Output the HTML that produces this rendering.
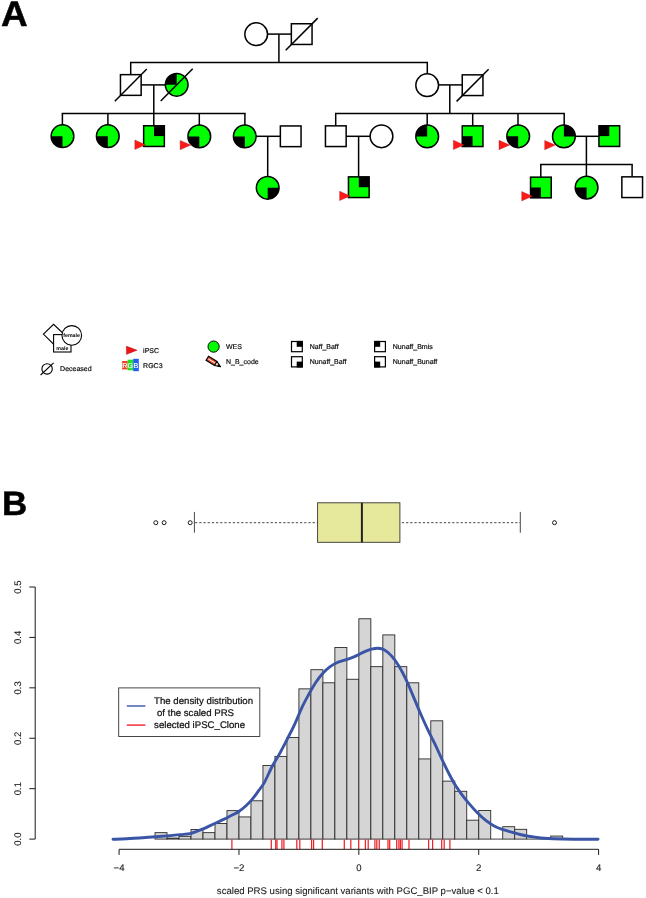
<!DOCTYPE html>
<html><head><meta charset="utf-8"><title>Figure</title>
<style>
html,body{margin:0;padding:0;background:#fff;}
svg{display:block;will-change:transform;text-rendering:geometricPrecision;font-family:"Liberation Sans",sans-serif;}
</style></head>
<body>
<svg width="646" height="898" viewBox="0 0 646 898">
<rect width="646" height="898" fill="#fff"/>
<g id="pedigree">
<line x1="267" y1="34.1" x2="292" y2="34.1" stroke="#000" stroke-width="1.5"/>
<line x1="278.9" y1="34.1" x2="278.9" y2="62.5" stroke="#000" stroke-width="1.5"/>
<line x1="130.0" y1="62.5" x2="428.0" y2="62.5" stroke="#000" stroke-width="1.5"/>
<line x1="130.7" y1="62.5" x2="130.7" y2="75" stroke="#000" stroke-width="1.5"/>
<line x1="427.3" y1="62.5" x2="427.3" y2="74" stroke="#000" stroke-width="1.5"/>
<line x1="141" y1="84.9" x2="165" y2="84.9" stroke="#000" stroke-width="1.5"/>
<line x1="153.8" y1="84.9" x2="153.8" y2="126" stroke="#000" stroke-width="1.5"/>
<line x1="61.7" y1="113.5" x2="245.6" y2="113.5" stroke="#000" stroke-width="1.5"/>
<line x1="62.4" y1="113.5" x2="62.4" y2="125.5" stroke="#000" stroke-width="1.5"/>
<line x1="107.9" y1="113.5" x2="107.9" y2="125.5" stroke="#000" stroke-width="1.5"/>
<line x1="199.3" y1="113.5" x2="199.3" y2="125.5" stroke="#000" stroke-width="1.5"/>
<line x1="244.9" y1="113.5" x2="244.9" y2="125.5" stroke="#000" stroke-width="1.5"/>
<line x1="438" y1="84.9" x2="463" y2="84.9" stroke="#000" stroke-width="1.5"/>
<line x1="449.8" y1="84.9" x2="449.8" y2="113.4" stroke="#000" stroke-width="1.5"/>
<line x1="335.0" y1="113.4" x2="564.9" y2="113.4" stroke="#000" stroke-width="1.5"/>
<line x1="335.7" y1="113.4" x2="335.7" y2="126" stroke="#000" stroke-width="1.5"/>
<line x1="427.2" y1="113.4" x2="427.2" y2="126" stroke="#000" stroke-width="1.5"/>
<line x1="472.7" y1="113.4" x2="472.7" y2="126" stroke="#000" stroke-width="1.5"/>
<line x1="518.0" y1="113.4" x2="518.0" y2="126" stroke="#000" stroke-width="1.5"/>
<line x1="564.2" y1="113.4" x2="564.2" y2="126" stroke="#000" stroke-width="1.5"/>
<line x1="256" y1="136.3" x2="280.5" y2="136.3" stroke="#000" stroke-width="1.5"/>
<line x1="267.7" y1="136.3" x2="267.7" y2="177" stroke="#000" stroke-width="1.5"/>
<line x1="346" y1="136.3" x2="370.5" y2="136.3" stroke="#000" stroke-width="1.5"/>
<line x1="358.6" y1="136.3" x2="358.6" y2="177.5" stroke="#000" stroke-width="1.5"/>
<line x1="575" y1="136.3" x2="599.5" y2="136.3" stroke="#000" stroke-width="1.5"/>
<line x1="586.4" y1="136.3" x2="586.4" y2="177" stroke="#000" stroke-width="1.5"/>
<line x1="540.1" y1="164.5" x2="632.8" y2="164.5" stroke="#000" stroke-width="1.5"/>
<line x1="540.8" y1="164.5" x2="540.8" y2="177.5" stroke="#000" stroke-width="1.5"/>
<line x1="632.1" y1="164.5" x2="632.1" y2="177.5" stroke="#000" stroke-width="1.5"/>
<circle cx="256.2" cy="34.2" r="11.35" fill="#fff" stroke="none"/>
<circle cx="256.2" cy="34.2" r="11.35" fill="none" stroke="#000" stroke-width="1.5"/>
<rect x="291.34999999999997" y="23.75" width="20.7" height="20.7" fill="#fff" stroke="none"/>
<rect x="291.34999999999997" y="23.75" width="20.7" height="20.7" fill="none" stroke="#000" stroke-width="1.5"/>
<line x1="285.7" y1="50.3" x2="317.7" y2="18.1" stroke="#000" stroke-width="1.5"/>
<rect x="120.45000000000002" y="74.65" width="20.7" height="20.7" fill="#fff" stroke="none"/>
<rect x="120.45000000000002" y="74.65" width="20.7" height="20.7" fill="none" stroke="#000" stroke-width="1.5"/>
<line x1="114.80000000000001" y1="101.2" x2="146.8" y2="69.0" stroke="#000" stroke-width="1.5"/>
<circle cx="176.7" cy="84.8" r="11.35" fill="#00FF00" stroke="none"/>
<path d="M176.7,84.8L165.35,84.8A11.35,11.35 0 0 1 176.7,73.45Z" fill="#000"/>
<circle cx="176.7" cy="84.8" r="11.35" fill="none" stroke="#000" stroke-width="1.5"/>
<line x1="160.7" y1="101.0" x2="192.7" y2="68.8" stroke="#000" stroke-width="1.5"/>
<circle cx="427.2" cy="85.2" r="11.35" fill="#fff" stroke="none"/>
<circle cx="427.2" cy="85.2" r="11.35" fill="none" stroke="#000" stroke-width="1.5"/>
<rect x="462.25" y="74.85000000000001" width="20.7" height="20.7" fill="#fff" stroke="none"/>
<rect x="462.25" y="74.85000000000001" width="20.7" height="20.7" fill="none" stroke="#000" stroke-width="1.5"/>
<line x1="456.6" y1="101.4" x2="488.6" y2="69.2" stroke="#000" stroke-width="1.5"/>
<circle cx="62.5" cy="136.2" r="11.35" fill="#00FF00" stroke="none"/>
<path d="M62.5,136.2L51.15,136.2A11.35,11.35 0 0 0 62.5,147.54999999999998Z" fill="#000"/>
<circle cx="62.5" cy="136.2" r="11.35" fill="none" stroke="#000" stroke-width="1.5"/>
<circle cx="107.8" cy="136.2" r="11.35" fill="#00FF00" stroke="none"/>
<path d="M107.8,136.2L96.45,136.2A11.35,11.35 0 0 0 107.8,147.54999999999998Z" fill="#000"/>
<circle cx="107.8" cy="136.2" r="11.35" fill="none" stroke="#000" stroke-width="1.5"/>
<rect x="143.65" y="125.75" width="20.7" height="20.7" fill="#00FF00" stroke="none"/>
<path d="M154.0,136.1L164.35,136.1L164.35,125.75L154.0,125.75Z" fill="#000"/>
<rect x="143.65" y="125.75" width="20.7" height="20.7" fill="none" stroke="#000" stroke-width="1.5"/>
<path d="M134.8,140.1L134.8,149.5L145.5,144.79999999999998Z" fill="#FF1A1A" stroke="#9a1414" stroke-width="0.35"/>
<circle cx="199.3" cy="136.4" r="11.35" fill="#00FF00" stroke="none"/>
<path d="M199.3,136.4L187.95000000000002,136.4A11.35,11.35 0 0 0 199.3,147.75Z" fill="#000"/>
<circle cx="199.3" cy="136.4" r="11.35" fill="none" stroke="#000" stroke-width="1.5"/>
<path d="M180.10000000000002,140.4L180.10000000000002,149.8L190.8,145.1Z" fill="#FF1A1A" stroke="#9a1414" stroke-width="0.35"/>
<circle cx="244.8" cy="136.4" r="11.35" fill="#00FF00" stroke="none"/>
<path d="M244.8,136.4L233.45000000000002,136.4A11.35,11.35 0 0 0 244.8,147.75Z" fill="#000"/>
<circle cx="244.8" cy="136.4" r="11.35" fill="none" stroke="#000" stroke-width="1.5"/>
<rect x="280.34999999999997" y="125.95000000000002" width="20.7" height="20.7" fill="#fff" stroke="none"/>
<rect x="280.34999999999997" y="125.95000000000002" width="20.7" height="20.7" fill="none" stroke="#000" stroke-width="1.5"/>
<rect x="325.45" y="125.85" width="20.7" height="20.7" fill="#fff" stroke="none"/>
<rect x="325.45" y="125.85" width="20.7" height="20.7" fill="none" stroke="#000" stroke-width="1.5"/>
<circle cx="381.5" cy="136.3" r="11.35" fill="#fff" stroke="none"/>
<circle cx="381.5" cy="136.3" r="11.35" fill="none" stroke="#000" stroke-width="1.5"/>
<circle cx="427.2" cy="136.4" r="11.35" fill="#00FF00" stroke="none"/>
<path d="M427.2,136.4L415.84999999999997,136.4A11.35,11.35 0 0 1 427.2,125.05000000000001Z" fill="#000"/>
<circle cx="427.2" cy="136.4" r="11.35" fill="none" stroke="#000" stroke-width="1.5"/>
<rect x="462.25" y="125.85" width="20.7" height="20.7" fill="#00FF00" stroke="none"/>
<path d="M472.6,136.2L462.25,136.2L462.25,146.54999999999998L472.6,146.54999999999998Z" fill="#000"/>
<rect x="462.25" y="125.85" width="20.7" height="20.7" fill="none" stroke="#000" stroke-width="1.5"/>
<path d="M453.40000000000003,140.2L453.40000000000003,149.6L464.1,144.89999999999998Z" fill="#FF1A1A" stroke="#9a1414" stroke-width="0.35"/>
<circle cx="518.2" cy="136.3" r="11.35" fill="#00FF00" stroke="none"/>
<path d="M518.2,136.3L506.85,136.3A11.35,11.35 0 0 0 518.2,147.65Z" fill="#000"/>
<circle cx="518.2" cy="136.3" r="11.35" fill="none" stroke="#000" stroke-width="1.5"/>
<path d="M499.00000000000006,140.3L499.00000000000006,149.70000000000002L509.70000000000005,145.0Z" fill="#FF1A1A" stroke="#9a1414" stroke-width="0.35"/>
<circle cx="563.9" cy="136.4" r="11.35" fill="#00FF00" stroke="none"/>
<path d="M563.9,136.4L575.25,136.4A11.35,11.35 0 0 0 563.9,125.05000000000001Z" fill="#000"/>
<circle cx="563.9" cy="136.4" r="11.35" fill="none" stroke="#000" stroke-width="1.5"/>
<path d="M544.6999999999999,140.4L544.6999999999999,149.8L555.4,145.1Z" fill="#FF1A1A" stroke="#9a1414" stroke-width="0.35"/>
<rect x="598.9499999999999" y="125.75" width="20.7" height="20.7" fill="#00FF00" stroke="none"/>
<path d="M609.3,136.1L598.9499999999999,136.1L598.9499999999999,125.75L609.3,125.75Z" fill="#000"/>
<rect x="598.9499999999999" y="125.75" width="20.7" height="20.7" fill="none" stroke="#000" stroke-width="1.5"/>
<circle cx="267.7" cy="187.8" r="11.35" fill="#00FF00" stroke="none"/>
<path d="M267.7,187.8L279.05,187.8A11.35,11.35 0 0 1 267.7,199.15Z" fill="#000"/>
<circle cx="267.7" cy="187.8" r="11.35" fill="none" stroke="#000" stroke-width="1.5"/>
<rect x="348.45" y="176.85" width="20.7" height="20.7" fill="#00FF00" stroke="none"/>
<path d="M358.8,187.2L369.15000000000003,187.2L369.15000000000003,176.85L358.8,176.85Z" fill="#000"/>
<rect x="348.45" y="176.85" width="20.7" height="20.7" fill="none" stroke="#000" stroke-width="1.5"/>
<path d="M339.6,191.2L339.6,200.6L350.3,195.89999999999998Z" fill="#FF1A1A" stroke="#9a1414" stroke-width="0.35"/>
<rect x="530.55" y="177.15" width="20.7" height="20.7" fill="#00FF00" stroke="none"/>
<path d="M540.9,187.5L530.55,187.5L530.55,197.85L540.9,197.85Z" fill="#000"/>
<rect x="530.55" y="177.15" width="20.7" height="20.7" fill="none" stroke="#000" stroke-width="1.5"/>
<path d="M521.6999999999999,191.5L521.6999999999999,200.9L532.4,196.2Z" fill="#FF1A1A" stroke="#9a1414" stroke-width="0.35"/>
<circle cx="586.6" cy="187.6" r="11.35" fill="#00FF00" stroke="none"/>
<path d="M586.6,187.6L575.25,187.6A11.35,11.35 0 0 0 586.6,198.95Z" fill="#000"/>
<circle cx="586.6" cy="187.6" r="11.35" fill="none" stroke="#000" stroke-width="1.5"/>
<rect x="621.85" y="176.85" width="20.7" height="20.7" fill="#fff" stroke="none"/>
<rect x="621.85" y="176.85" width="20.7" height="20.7" fill="none" stroke="#000" stroke-width="1.5"/>
</g>
<g id="legend" font-size="7px" fill="#0a0a0a" stroke-width="0.18">
<path d="M43.4,334.1L53.6,324.3L63.8,334.1L53.6,344.2Z" fill="#fff" stroke="#000" stroke-width="1.1"/>
<rect x="53.6" y="334.6" width="17.4" height="17.4" fill="#fff" stroke="#000" stroke-width="1.1"/>
<circle cx="71.8" cy="335.4" r="9.8" fill="#fff" stroke="#000" stroke-width="1.1"/>
<text x="71.6" y="337.3" text-anchor="middle" font-size="5.3px" font-weight="bold" fill="#000">female</text>
<text x="62.3" y="350.2" text-anchor="middle" font-size="5.3px" font-weight="bold" fill="#000">male</text>
<circle cx="47.1" cy="368.9" r="5.2" fill="#fff" stroke="#000" stroke-width="1.1"/>
<line x1="40.6" y1="375" x2="53.6" y2="362.9" stroke="#000" stroke-width="1.1"/>
<text x="60.1" y="371.4" stroke="#0a0a0a">Deceased</text>
<path d="M126.3,346.1L126.3,354.5L137.3,350.2Z" fill="#F01414" stroke="#7a1010" stroke-width="0.3"/>
<text x="143.1" y="353.0" stroke="#0a0a0a">iPSC</text>
<rect x="122.1" y="361" width="5.5" height="8.4" fill="#F04020"/>
<rect x="127.6" y="359.7" width="5.6" height="10.6" fill="#22DD22"/>
<rect x="133.2" y="358.8" width="5.6" height="12.4" fill="#2060F0"/>
<text x="124.85" y="367.6" text-anchor="middle" font-size="7.2px" fill="#fff" stroke="#fff" stroke-width="0.15">R</text>
<text x="130.4" y="367.6" text-anchor="middle" font-size="7.2px" fill="#fff" stroke="#fff" stroke-width="0.15">G</text>
<text x="136.0" y="367.6" text-anchor="middle" font-size="7.2px" fill="#fff" stroke="#fff" stroke-width="0.15">B</text>
<text x="143.1" y="367.9" stroke="#0a0a0a">RGC3</text>
<circle cx="213.6" cy="346.6" r="5.6" fill="#00FF00" stroke="#000" stroke-width="1"/>
<text x="226" y="349.2" stroke="#0a0a0a">WES</text>
<g transform="translate(207.3,358.2) rotate(32)"><rect x="0" y="-2.4" width="10" height="4.8" fill="#E8482A" stroke="#000" stroke-width="1.1"/><line x1="1.2" y1="0" x2="9.2" y2="0" stroke="#fff" stroke-width="1.0"/><path d="M10,-2.4L15.8,0.3L10,2.4Z" fill="#E8DCC0" stroke="#000" stroke-width="1.0" stroke-linejoin="round"/><path d="M12.6,-1.4L16.3,0.3L12.6,1.6Z" fill="#000"/></g>
<text x="226" y="363.9" stroke="#0a0a0a">N_B_code</text>
<rect x="290.9" y="340.9" width="12.0" height="11.4" fill="#fff"/>
<rect x="296.7" y="340.9" width="6.2" height="5.9" fill="#000"/>
<rect x="291.5" y="341.5" width="10.8" height="10.200000000000001" fill="none" stroke="#000" stroke-width="1.2"/>
<rect x="290.9" y="356.1" width="12.0" height="11.4" fill="#fff"/>
<rect x="296.7" y="361.6" width="6.2" height="5.9" fill="#000"/>
<rect x="291.5" y="356.70000000000005" width="10.8" height="10.200000000000001" fill="none" stroke="#000" stroke-width="1.2"/>
<rect x="374" y="340.9" width="12.0" height="11.4" fill="#fff"/>
<rect x="374" y="340.9" width="6.2" height="5.9" fill="#000"/>
<rect x="374.6" y="341.5" width="10.8" height="10.200000000000001" fill="none" stroke="#000" stroke-width="1.2"/>
<rect x="374" y="356.1" width="12.0" height="11.4" fill="#fff"/>
<rect x="374" y="361.6" width="6.2" height="5.9" fill="#000"/>
<rect x="374.6" y="356.70000000000005" width="10.8" height="10.200000000000001" fill="none" stroke="#000" stroke-width="1.2"/>
<text x="309.7" y="349.2" stroke="#0a0a0a">Naff_Baff</text>
<text x="309.7" y="363.9" stroke="#0a0a0a">Nunaff_Baff</text>
<text x="392.8" y="349.2" stroke="#0a0a0a">Nunaff_Bmis</text>
<text x="392.8" y="363.9" stroke="#0a0a0a">Nunaff_Bunaff</text>
</g>
<text transform="translate(1.0,25.7) scale(1.04,1)" font-size="35.6px" font-weight="bold" fill="#000" stroke="#000" stroke-width="0.5">A</text>
<text transform="translate(2.1,514.5) scale(1.03,1)" font-size="33.9px" font-weight="bold" fill="#000" stroke="#000" stroke-width="0.5">B</text>
<g id="box">
<circle cx="155.8" cy="522.7" r="2.0" fill="none" stroke="#1a1a1a" stroke-width="1.0"/>
<circle cx="164.1" cy="522.7" r="2.0" fill="none" stroke="#1a1a1a" stroke-width="1.0"/>
<circle cx="190.2" cy="522.7" r="2.0" fill="none" stroke="#1a1a1a" stroke-width="1.0"/>
<circle cx="554.5" cy="522.7" r="2.0" fill="none" stroke="#1a1a1a" stroke-width="1.0"/>
<line x1="194.4" y1="511.9" x2="194.4" y2="532.7" stroke="#333" stroke-width="0.9"/>
<line x1="520.3" y1="511.9" x2="520.3" y2="532.7" stroke="#333" stroke-width="0.9"/>
<line x1="195" y1="522.7" x2="317.3" y2="522.7" stroke="#333" stroke-width="0.9" stroke-dasharray="2.3 1.9"/>
<line x1="400.3" y1="522.7" x2="520" y2="522.7" stroke="#333" stroke-width="0.9" stroke-dasharray="2.3 1.9" stroke-dashoffset="-1.5"/>
<rect x="317.6" y="502.8" width="82.3" height="39.5" fill="#E6E89C" stroke="#333" stroke-width="0.9"/>
<line x1="361.9" y1="502.8" x2="361.9" y2="542.3" stroke="#222" stroke-width="2"/>
</g>
<g id="hist">
<rect x="155.05" y="832.65" width="11.99" height="6.45" fill="#D5D5D5" stroke="#2a2a2a" stroke-width="0.9"/>
<rect x="167.04" y="838.09" width="11.99" height="1.01" fill="#D5D5D5" stroke="#2a2a2a" stroke-width="0.9"/>
<rect x="179.03" y="836.33" width="11.99" height="2.77" fill="#D5D5D5" stroke="#2a2a2a" stroke-width="0.9"/>
<rect x="191.02" y="829.52" width="11.99" height="9.58" fill="#D5D5D5" stroke="#2a2a2a" stroke-width="0.9"/>
<rect x="203.01" y="832.65" width="11.99" height="6.45" fill="#D5D5D5" stroke="#2a2a2a" stroke-width="0.9"/>
<rect x="214.99" y="823.47" width="11.99" height="15.63" fill="#D5D5D5" stroke="#2a2a2a" stroke-width="0.9"/>
<rect x="226.98" y="810.61" width="11.99" height="28.49" fill="#D5D5D5" stroke="#2a2a2a" stroke-width="0.9"/>
<rect x="238.97" y="816.92" width="11.99" height="22.18" fill="#D5D5D5" stroke="#2a2a2a" stroke-width="0.9"/>
<rect x="250.96" y="800.78" width="11.99" height="38.32" fill="#D5D5D5" stroke="#2a2a2a" stroke-width="0.9"/>
<rect x="262.95" y="765.49" width="11.99" height="73.61" fill="#D5D5D5" stroke="#2a2a2a" stroke-width="0.9"/>
<rect x="274.93" y="756.41" width="11.99" height="82.69" fill="#D5D5D5" stroke="#2a2a2a" stroke-width="0.9"/>
<rect x="286.92" y="737.55" width="11.99" height="101.55" fill="#D5D5D5" stroke="#2a2a2a" stroke-width="0.9"/>
<rect x="298.91" y="688.85" width="11.99" height="150.25" fill="#D5D5D5" stroke="#2a2a2a" stroke-width="0.9"/>
<rect x="310.90" y="669.69" width="11.99" height="169.41" fill="#D5D5D5" stroke="#2a2a2a" stroke-width="0.9"/>
<rect x="322.89" y="682.80" width="11.99" height="156.30" fill="#D5D5D5" stroke="#2a2a2a" stroke-width="0.9"/>
<rect x="334.87" y="647.50" width="11.99" height="191.60" fill="#D5D5D5" stroke="#2a2a2a" stroke-width="0.9"/>
<rect x="346.86" y="679.27" width="11.99" height="159.83" fill="#D5D5D5" stroke="#2a2a2a" stroke-width="0.9"/>
<rect x="358.85" y="618.76" width="11.99" height="220.34" fill="#D5D5D5" stroke="#2a2a2a" stroke-width="0.9"/>
<rect x="370.84" y="666.66" width="11.99" height="172.44" fill="#D5D5D5" stroke="#2a2a2a" stroke-width="0.9"/>
<rect x="382.83" y="634.90" width="11.99" height="204.20" fill="#D5D5D5" stroke="#2a2a2a" stroke-width="0.9"/>
<rect x="394.81" y="666.66" width="11.99" height="172.44" fill="#D5D5D5" stroke="#2a2a2a" stroke-width="0.9"/>
<rect x="406.80" y="682.80" width="11.99" height="156.30" fill="#D5D5D5" stroke="#2a2a2a" stroke-width="0.9"/>
<rect x="418.79" y="758.93" width="11.99" height="80.17" fill="#D5D5D5" stroke="#2a2a2a" stroke-width="0.9"/>
<rect x="430.78" y="720.81" width="11.99" height="118.29" fill="#D5D5D5" stroke="#2a2a2a" stroke-width="0.9"/>
<rect x="442.77" y="781.12" width="11.99" height="57.98" fill="#D5D5D5" stroke="#2a2a2a" stroke-width="0.9"/>
<rect x="454.75" y="791.30" width="11.99" height="47.80" fill="#D5D5D5" stroke="#2a2a2a" stroke-width="0.9"/>
<rect x="466.74" y="820.19" width="11.99" height="18.91" fill="#D5D5D5" stroke="#2a2a2a" stroke-width="0.9"/>
<rect x="478.73" y="810.51" width="11.99" height="28.59" fill="#D5D5D5" stroke="#2a2a2a" stroke-width="0.9"/>
<line x1="490.72" y1="839.1" x2="502.71" y2="839.1" stroke="#2a2a2a" stroke-width="0.9"/>
<rect x="502.71" y="826.70" width="11.99" height="12.40" fill="#D5D5D5" stroke="#2a2a2a" stroke-width="0.9"/>
<rect x="514.69" y="829.32" width="11.99" height="9.78" fill="#D5D5D5" stroke="#2a2a2a" stroke-width="0.9"/>
<line x1="526.68" y1="839.1" x2="538.67" y2="839.1" stroke="#2a2a2a" stroke-width="0.9"/>
<line x1="538.67" y1="839.1" x2="550.66" y2="839.1" stroke="#2a2a2a" stroke-width="0.9"/>
<rect x="550.66" y="836.07" width="11.99" height="3.03" fill="#D5D5D5" stroke="#2a2a2a" stroke-width="0.9"/>
<line x1="231.9" y1="839.4" x2="231.9" y2="849.3" stroke="#F2202A" stroke-width="1.25"/>
<line x1="271.3" y1="839.4" x2="271.3" y2="849.3" stroke="#F2202A" stroke-width="1.25"/>
<line x1="275.7" y1="839.4" x2="275.7" y2="849.3" stroke="#F2202A" stroke-width="1.25"/>
<line x1="277.0" y1="839.4" x2="277.0" y2="849.3" stroke="#F2202A" stroke-width="1.25"/>
<line x1="281.9" y1="839.4" x2="281.9" y2="849.3" stroke="#F2202A" stroke-width="1.25"/>
<line x1="283.9" y1="839.4" x2="283.9" y2="849.3" stroke="#F2202A" stroke-width="1.25"/>
<line x1="296.8" y1="839.4" x2="296.8" y2="849.3" stroke="#F2202A" stroke-width="1.25"/>
<line x1="299.8" y1="839.4" x2="299.8" y2="849.3" stroke="#F2202A" stroke-width="1.25"/>
<line x1="311.6" y1="839.4" x2="311.6" y2="849.3" stroke="#F2202A" stroke-width="1.25"/>
<line x1="313.6" y1="839.4" x2="313.6" y2="849.3" stroke="#F2202A" stroke-width="1.25"/>
<line x1="322.3" y1="839.4" x2="322.3" y2="849.3" stroke="#F2202A" stroke-width="1.25"/>
<line x1="344.3" y1="839.4" x2="344.3" y2="849.3" stroke="#F2202A" stroke-width="1.25"/>
<line x1="350.8" y1="839.4" x2="350.8" y2="849.3" stroke="#F2202A" stroke-width="1.25"/>
<line x1="358.7" y1="839.4" x2="358.7" y2="849.3" stroke="#F2202A" stroke-width="1.25"/>
<line x1="365.4" y1="839.4" x2="365.4" y2="849.3" stroke="#F2202A" stroke-width="1.25"/>
<line x1="368.2" y1="839.4" x2="368.2" y2="849.3" stroke="#F2202A" stroke-width="1.25"/>
<line x1="374.9" y1="839.4" x2="374.9" y2="849.3" stroke="#F2202A" stroke-width="1.25"/>
<line x1="376.8" y1="839.4" x2="376.8" y2="849.3" stroke="#F2202A" stroke-width="1.25"/>
<line x1="379.3" y1="839.4" x2="379.3" y2="849.3" stroke="#F2202A" stroke-width="1.25"/>
<line x1="388.0" y1="839.4" x2="388.0" y2="849.3" stroke="#F2202A" stroke-width="1.25"/>
<line x1="389.7" y1="839.4" x2="389.7" y2="849.3" stroke="#F2202A" stroke-width="1.25"/>
<line x1="396.7" y1="839.4" x2="396.7" y2="849.3" stroke="#F2202A" stroke-width="1.25"/>
<line x1="398.9" y1="839.4" x2="398.9" y2="849.3" stroke="#F2202A" stroke-width="1.25"/>
<line x1="400.4" y1="839.4" x2="400.4" y2="849.3" stroke="#F2202A" stroke-width="1.25"/>
<line x1="402.1" y1="839.4" x2="402.1" y2="849.3" stroke="#F2202A" stroke-width="1.25"/>
<line x1="409.0" y1="839.4" x2="409.0" y2="849.3" stroke="#F2202A" stroke-width="1.25"/>
<line x1="428.6" y1="839.4" x2="428.6" y2="849.3" stroke="#F2202A" stroke-width="1.25"/>
<line x1="432.6" y1="839.4" x2="432.6" y2="849.3" stroke="#F2202A" stroke-width="1.25"/>
<line x1="441.7" y1="839.4" x2="441.7" y2="849.3" stroke="#F2202A" stroke-width="1.25"/>
<line x1="444.2" y1="839.4" x2="444.2" y2="849.3" stroke="#F2202A" stroke-width="1.25"/>
<line x1="449.9" y1="839.4" x2="449.9" y2="849.3" stroke="#F2202A" stroke-width="1.25"/>
<path d="M113.0,839.3C115.28,839.22 120.82,839.13 126.7,838.8C132.58,838.47 141.08,837.83 148.3,837.3C155.52,836.77 164.57,836.05 170,835.6C175.43,835.15 177.57,834.93 180.9,834.6C184.23,834.27 187.45,834.10 190,833.6C192.55,833.10 194.13,832.33 196.2,831.6C198.27,830.87 200.33,830.07 202.4,829.2C204.47,828.33 206.53,827.35 208.6,826.4C210.67,825.45 212.73,824.47 214.8,823.5C216.87,822.53 218.93,821.57 221,820.6C223.07,819.63 225.15,818.70 227.2,817.7C229.25,816.70 231.25,815.72 233.3,814.6C235.35,813.48 237.43,812.43 239.5,811C241.57,809.57 243.63,807.90 245.7,806C247.77,804.10 249.83,802.03 251.9,799.6C253.97,797.17 256.03,794.23 258.1,791.4C260.17,788.57 261.98,786.72 264.3,782.6C266.62,778.48 269.52,771.40 272,766.7C274.48,762.00 276.55,759.22 279.2,754.4C281.85,749.58 285.25,742.98 287.9,737.8C290.55,732.62 292.75,728.38 295.1,723.3C297.45,718.22 299.70,712.17 302,707.3C304.30,702.43 306.58,698.28 308.9,694.1C311.22,689.92 313.57,685.68 315.9,682.2C318.23,678.72 320.58,675.75 322.9,673.2C325.22,670.65 327.48,668.65 329.8,666.9C332.12,665.15 334.47,663.78 336.8,662.7C339.13,661.62 341.48,661.17 343.8,660.4C346.12,659.63 348.38,658.98 350.7,658.1C353.02,657.22 355.37,656.18 357.7,655.1C360.03,654.02 362.38,652.58 364.7,651.6C367.02,650.62 369.38,649.75 371.6,649.2C373.82,648.65 375.85,648.17 378.0,648.3C380.15,648.43 382.22,648.70 384.5,650.0C386.78,651.30 389.28,653.40 391.7,656.1C394.12,658.80 396.58,662.23 399,666.2C401.42,670.17 403.80,674.83 406.2,679.9C408.60,684.97 410.98,690.92 413.4,696.6C415.82,702.28 418.28,708.45 420.7,714C423.12,719.55 425.50,724.83 427.9,729.9C430.30,734.97 432.78,739.55 435.1,744.4C437.42,749.25 439.55,754.23 441.8,759.0C444.05,763.77 446.33,768.62 448.6,773.0C450.87,777.38 453.13,781.62 455.4,785.3C457.67,788.98 459.92,792.05 462.2,795.1C464.48,798.15 466.53,800.62 469.1,803.6C471.67,806.58 474.77,810.15 477.6,813C480.43,815.85 483.27,818.48 486.1,820.7C488.93,822.92 491.77,824.80 494.6,826.3C497.43,827.80 500.27,828.72 503.1,829.7C505.93,830.68 508.77,831.40 511.6,832.2C514.43,833.00 517.27,833.82 520.1,834.5C522.93,835.18 525.75,835.80 528.6,836.3C531.45,836.80 534.63,837.18 537.2,837.5C539.77,837.82 539.78,837.95 544,838.2C548.22,838.45 556.17,838.83 562.5,839C568.83,839.17 576.08,839.17 582,839.2C587.92,839.23 595.33,839.20 598,839.2" fill="none" stroke="#3A54A6" stroke-width="2.9" stroke-linecap="round" stroke-linejoin="round"/>
<g stroke="#1a1a1a" stroke-width="1.0" fill="none">
<path d="M119.1,854.9V849.3H598.6V854.9"/>
<line x1="238.97" y1="849.3" x2="238.97" y2="854.9"/>
<line x1="358.85" y1="849.3" x2="358.85" y2="854.9"/>
<line x1="478.73" y1="849.3" x2="478.73" y2="854.9"/>
<path d="M29.3,587.00H35.2V839.10H29.3"/>
<line x1="29.3" y1="788.68" x2="35.2" y2="788.68"/>
<line x1="29.3" y1="738.26" x2="35.2" y2="738.26"/>
<line x1="29.3" y1="687.84" x2="35.2" y2="687.84"/>
<line x1="29.3" y1="637.42" x2="35.2" y2="637.42"/>
</g>
<g font-size="9.6px" fill="#1a1a1a" stroke="#1a1a1a" stroke-width="0.1" text-anchor="middle">
<text x="119.09" y="870.9">−4</text>
<text x="238.97" y="870.9">−2</text>
<text x="358.85" y="870.9">0</text>
<text x="478.73" y="870.9">2</text>
<text x="598.61" y="870.9">4</text>
<text transform="translate(21.2,839.10) rotate(-90)">0.0</text>
<text transform="translate(21.2,788.68) rotate(-90)">0.1</text>
<text transform="translate(21.2,738.26) rotate(-90)">0.2</text>
<text transform="translate(21.2,687.84) rotate(-90)">0.3</text>
<text transform="translate(21.2,637.42) rotate(-90)">0.4</text>
<text transform="translate(21.2,587.00) rotate(-90)">0.5</text>
<text x="357.8" y="893.5">scaled PRS using significant variants with PGC_BIP p−value &lt; 0.1</text>
</g>
<rect x="118.7" y="687.9" width="141.1" height="48.6" fill="#fff" stroke="#333" stroke-width="0.9"/>
<line x1="126.8" y1="706" x2="145.4" y2="706" stroke="#3A54A6" stroke-width="1.4"/>
<line x1="126.8" y1="725.1" x2="145.4" y2="725.1" stroke="#F2202A" stroke-width="1.4"/>
<g font-size="9.65px" fill="#111" stroke="#111" stroke-width="0.22">
<text x="154.1" y="704">The density distribution</text>
<text x="157.0" y="715.9">of the scaled PRS</text>
<text x="154.1" y="728.3">selected iPSC_Clone</text>
</g>
</g>
</svg>
</body></html>
